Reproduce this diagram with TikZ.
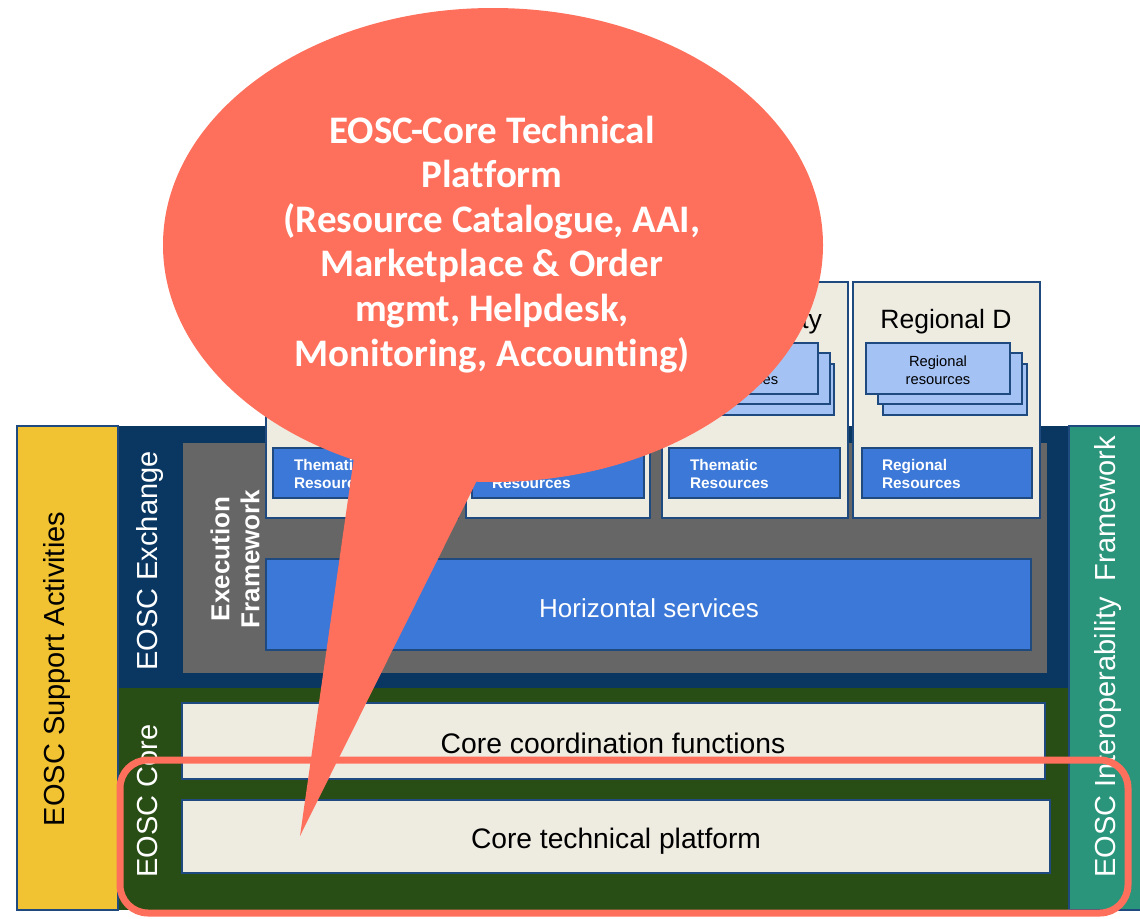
\documentclass[tikz,border=0pt]{standalone}
\usepackage{fontspec}
\setmainfont{Liberation Sans}
\newfontfamily\calibfont[Ligatures=NoCommon]{Carlito}
\usetikzlibrary{shapes.geometric}
\newcommand\fsz[2]{\fontsize{#1}{#2}\selectfont}
\definecolor{ylw}{HTML}{F1C232}
\definecolor{navy}{HTML}{0A3761}
\definecolor{grn}{HTML}{284E15}
\definecolor{teal2}{HTML}{2A957A}
\definecolor{gry}{HTML}{666666}
\definecolor{blu}{HTML}{3C78D8}
\definecolor{lblu}{HTML}{A4C2F4}
\definecolor{beige}{HTML}{EEEBE1}
\definecolor{bord}{HTML}{1F4A80}
\definecolor{salm}{HTML}{FF705C}
\begin{document}
\begin{tikzpicture}[x=1pt,y=-1pt,
  blk/.style={anchor=north west,inner sep=0pt,outer sep=0pt},
  sz/.style 2 args={minimum width=#1pt,minimum height=#2pt},
  ol/.style={draw=bord,line width=1.5pt},
  lbl/.style={inner sep=0pt,outer sep=0pt},
  vlbl/.style={lbl,rotate=90,anchor=base,text=white,font=\fsz{29}{34}},
  reslbl/.style={lbl,anchor=base west,align=left,text=white,font=\bfseries\fsz{15.4}{18}},
  stkbox/.style={blk,ol,fill=lblu,sz={144}{51}},
  stklbl/.style={lbl,anchor=base,align=center,font=\fsz{14.7}{18}},
  colbox/.style={blk,ol,fill=beige},
  resbox/.style={blk,ol,fill=blu,sz={#1}{50}},
  coltitle/.style={lbl,anchor=base,font=\fsz{26.5}{30}}
]
\useasboundingbox (0,0) rectangle (1140,918);
\fill[white] (0,0) rectangle (1140,918);

% bands
\node[blk,fill=navy,sz={952}{262}] (exband) at (118,426) {};
\node[blk,fill=grn,sz={952}{222}] (coreband) at (118,688) {};
\node[blk,ol,fill=ylw,sz={101}{484}] (support) at (17,426) {};
\node[blk,ol,fill=teal2,sz={75}{484}] (interop) at (1069,426) {};
\node[blk,fill=gry,sz={864}{230}] (execfw) at (183,443) {};
\node[blk,ol,fill=blu,sz={765}{91}] (hsvc) at (266,559) {};

% columns
\node[colbox,sz={192}{236}] (col1) at (266,282) {};
\node[colbox,sz={184}{236}] (col2) at (466,282) {};
\node[colbox,sz={186}{236}] (col3) at (662,282) {};
\node[colbox,sz={187}{236}] (col4) at (853,282) {};

\node[coltitle] (col3t) at (755,328) {Community};
\node[coltitle] (col4t) at (946,328) {Regional D};

% stacks
\node[stkbox] (s3c) at (690,364) {};
\node[stkbox] (s3b) at (686,353) {};
\node[stkbox] (s3a) at (674,343) {};
\node[stklbl] (s3t) at (746,384) {Thematic\\resources};
\node[stkbox] (s4c) at (883,364) {};
\node[stkbox] (s4b) at (878,353) {};
\node[stkbox] (s4a) at (866,343) {};
\node[stklbl] (s4t) at (938,384) {Regional\\resources};

% resource boxes
\node[resbox=177] (r1) at (273,448) {};
\node[resbox=172] (r2) at (472,448) {};
\node[resbox=171] (r3) at (669,448) {};
\node[resbox=170] (r4) at (862,448) {};
\node[reslbl] (r1t) at (294,488) {Thematic\\Resources};
\node[reslbl] (r2t) at (492,488) {Thematic\\Resources};
\node[reslbl] (r3t) at (690,488) {Thematic\\Resources};
\node[reslbl] (r4t) at (882,488) {Regional\\Resources};

% core boxes
\node[blk,ol,fill=beige,sz={863}{76}] (ccf) at (182,703) {};
\node[blk,ol,fill=beige,sz={868}{73}] (ctp) at (182,800) {};

% labels
\node[vlbl,text=black] (supportlbl) at (64,669) {EOSC Support Activities};
\node[vlbl] (exlbl) at (157,561) {EOSC Exchange};
\node[vlbl] (corelbl) at (157,801) {EOSC Core};
\node[vlbl] (interlbl) at (1115,657) {EOSC Interoperability\ \ Framework};
\node[lbl,rotate=90,align=center,text=white,font=\bfseries\fsz{26}{30}] (exfwlbl) at (235,559) {Execution\\Framework};
\node[lbl,anchor=base,text=white,font=\fsz{26}{30}] (hsvclbl) at (649,617) {Horizontal services};
\node[lbl,anchor=base,font=\fsz{28.3}{32}] (ccflbl) at (613,753) {Core coordination functions};
\node[lbl,anchor=base,font=\fsz{28.2}{32}] (ctplbl) at (616,848) {Core technical platform};

% highlight
\node[blk,draw=salm,line width=7pt,rounded corners=28pt,sz={1008}{153}] (hl) at (120,760) {};

% callout
\node[ellipse,fill=salm,inner sep=0pt,minimum width=660pt,minimum height=474pt] (bubble) at (493,245) {};
\coordinate (tip) at (300,836);
\fill[salm] (tip) -- (365,380) -- (527,380) -- cycle;
\node[lbl,anchor=base,align=center,text=white,font=\calibfont\bfseries\fsz{39}{44.6}] (bubbletxt) at (492,366) {EOSC-Core Technical\\Platform\\(Resource Catalogue, AAI,\\Marketplace \& Order\\mgmt, Helpdesk,\\Monitoring, Accounting)};
\end{tikzpicture}
\end{document}
